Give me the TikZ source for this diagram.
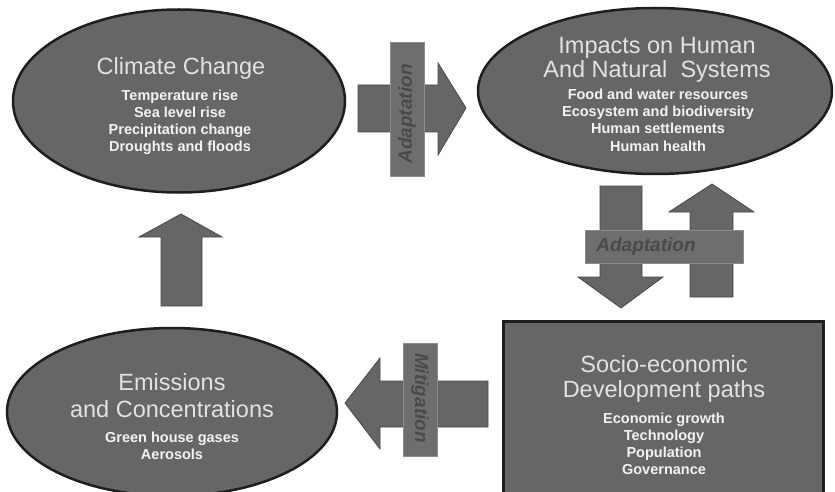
\documentclass[tikz,border=0pt]{standalone}
\usepackage{fontspec}
\setmainfont{Liberation Sans}
\usetikzlibrary{shapes.geometric}
\definecolor{boxfill}{HTML}{666666}
\definecolor{edge}{HTML}{1E1E1E}
\definecolor{arrowedge}{HTML}{474747}
\definecolor{bandfill}{HTML}{6E6E6E}
\definecolor{bandedge}{HTML}{8C8C8C}
\definecolor{bandtxt}{HTML}{4A4A4A}
\definecolor{headtxt}{HTML}{E2E2E2}
\definecolor{itemtxt}{HTML}{F2F2F2}
\begin{document}
\begin{tikzpicture}[x=1pt,y=-1pt,
  blob/.style={ellipse, draw=edge, line width=2.5pt, fill=boxfill, inner sep=0pt},
  panel/.style={rectangle, draw=edge, line width=2.5pt, fill=boxfill, inner sep=0pt},
  heading/.style={anchor=base, text=headtxt, inner sep=0pt,
                  font=\fontsize{23.5}{25}\selectfont},
  item/.style={anchor=base, text=itemtxt, inner sep=0pt,
               font=\bfseries\fontsize{14.5}{17}\selectfont},
  blockarrow/.style={fill=boxfill, draw=arrowedge, line width=0.8pt, line join=miter},
  band/.style={rectangle, fill=bandfill, draw=bandedge, line width=0.8pt, inner sep=0pt},
  bandtext/.style={text=bandtxt, inner sep=0pt,
                   font=\bfseries\itshape\fontsize{19}{19}\selectfont}]

% canvas
\fill[white] (0,0) rectangle (835,492);
\clip (0,0) rectangle (835,492);

% ---- block arrows ----
% climate -> impacts
\draw[blockarrow] (358,85) -- (438,85) -- (438,63) -- (466,108) -- (438,155)
  -- (438,132) -- (358,132) -- cycle;
% impacts -> development (down)
\draw[blockarrow] (600,186) -- (642,186) -- (642,277) -- (663,277) -- (621,308)
  -- (578,277) -- (600,277) -- cycle;
% development -> impacts (up)
\draw[blockarrow] (690,297) -- (733,297) -- (733,212) -- (754,212) -- (712,184)
  -- (669,212) -- (690,212) -- cycle;
% emissions -> climate (up)
\draw[blockarrow] (161,306) -- (202,306) -- (202,237) -- (222,237) -- (181,214)
  -- (139,237) -- (161,237) -- cycle;
% development -> emissions (left)
\draw[blockarrow] (488,381) -- (488,427) -- (380,427) -- (380,449) -- (345,403)
  -- (380,358) -- (380,381) -- cycle;

% ---- bands across the arrows ----
\node[band, minimum width=34, minimum height=134] (bandTop) at (407,109) {};
\node[bandtext, rotate=90] (bandTopText) at (407,114) {Adaptation};

\node[band, minimum width=158, minimum height=33] (bandMid) at (664,246.5) {};
\node[bandtext] (bandMidText) at (646,247) {Adaptation};

\node[band, minimum width=34, minimum height=113] (bandLow) at (420,399.5) {};
\node[bandtext, rotate=-90] (bandLowText) at (420,398) {Mitigation};

% ---- climate change ----
\node[blob, minimum width=332, minimum height=183] (climate) at (179,101) {};
\node[heading] (climateTitle) at (181,75) {Climate Change};
\foreach \t [count=\i] in {Temperature rise, Sea level rise,
    Precipitation change, Droughts and floods}
  \node[item] (climateItem\i) at (180,{101+17*(\i-1)}) {\t};

% ---- impacts ----
\node[blob, minimum width=354, minimum height=166] (impacts) at (655,91) {};
\node[heading] (impactsTitleA) at (657,54) {Impacts on Human};
\node[heading] (impactsTitleB) at (657,78) {And Natural\ \ Systems};
\foreach \t [count=\i] in {Food and water resources, Ecosystem and biodiversity,
    Human settlements, Human health}
  \node[item] (impactsItem\i) at (658,{100+17*(\i-1)}) {\t};

% ---- emissions ----
\node[blob, minimum width=330, minimum height=168] (emissions) at (172,412) {};
\node[heading] (emissionsTitleA) at (172,390) {Emissions};
\node[heading] (emissionsTitleB) at (172,417) {and Concentrations};
\foreach \t [count=\i] in {Green house gases, Aerosols}
  \node[item] (emissionsItem\i) at (172,{442+17*(\i-1)}) {\t};

% ---- socio-economic development ----
\node[panel, minimum width=320, minimum height=190, anchor=north west]
  (development) at (502,320) {};
\node[heading] (developmentTitleA) at (664,372) {Socio-economic};
\node[heading] (developmentTitleB) at (664,397) {Development paths};
\foreach \t [count=\i] in {Economic growth, Technology, Population, Governance}
  \node[item] (developmentItem\i) at (664,{423+17.3*(\i-1)}) {\t};

\end{tikzpicture}
\end{document}
